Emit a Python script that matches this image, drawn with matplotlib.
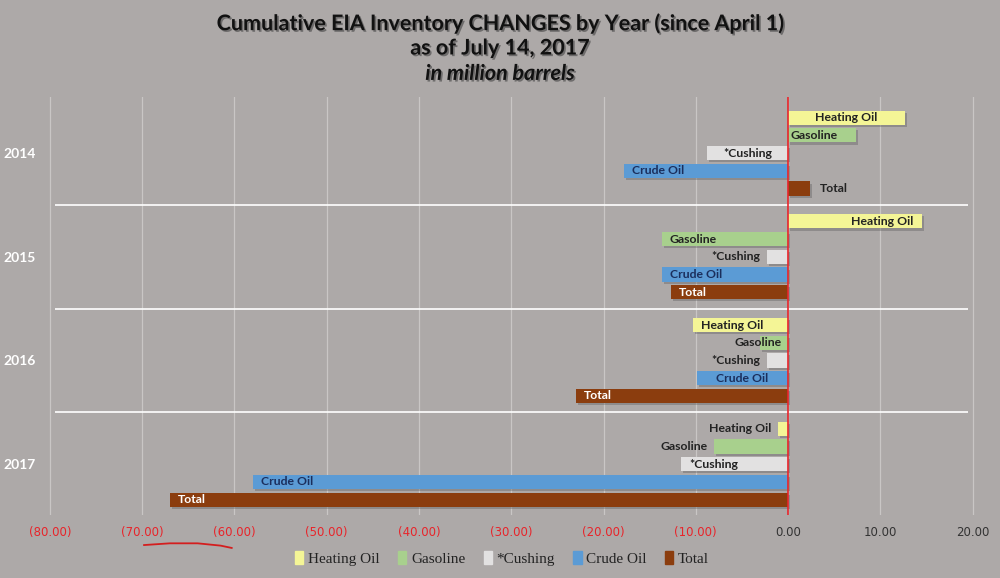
import matplotlib
matplotlib.use("Agg")
import matplotlib.pyplot as plt
import matplotlib.patheffects as pe
from matplotlib.lines import Line2D
import numpy as np

years = ["2014", "2015", "2016", "2017"]
series = ["Heating Oil", "Gasoline", "*Cushing", "Crude Oil", "Total"]

heating_oil = [12.7, 14.5, -10.3, -1.1]
gasoline = [7.4, -13.7, -3.0, -8.0]
cushing = [-8.8, -2.3, -2.3, -11.6]
crude_oil = [-17.8, -13.7, -9.9, -58.0]
total = [2.4, -12.7, -23.0, -67.0]

# where each bar label sits: center / in_end / in_base / out_end
label_mode = [
    ["center", "in_base", "center", "in_end", "out_end"],
    ["in_end", "in_end", "out_end", "in_end", "in_end"],
    ["in_end", "in_base", "out_end", "center", "in_end"],
    ["out_end", "out_end", "in_end", "in_end", "in_end"],
]

xticks = [-80, -70, -60, -50, -40, -30, -20, -10, 0, 10, 20]

colors = ["#F4F596", "#A8D08D", "#E2E1E1", "#5B9BD5", "#8B3D0E"]
label_colors = ["#222222", "#222222", "#222222", "#1B2E5C", "white"]
bg = "#ADA9A8"

values = [heating_oil, gasoline, cushing, crude_oil, total]

fig = plt.figure(figsize=(10, 5.78), dpi=100)
fig.patch.set_facecolor(bg)
ax = fig.add_axes([0.040, 0.109, 0.940, 0.723])
ax.set_facecolor(bg)

step = 0.171
bar_h = 0.137
pad = 0.9
shadow = [pe.SimplePatchShadow(offset=(1.5, -1.5), shadow_rgbFace="#555555", alpha=0.35), pe.Normal()]

for s in range(len(series)):
    for i in range(len(years)):
        v = values[s][i]
        y = i + (s - 2) * step
        ax.barh(y, v, height=bar_h, color=colors[s], zorder=3, path_effects=shadow)
        mode = label_mode[i][s]
        tc = label_colors[s]
        if mode == "center":
            x, ha = v / 2, "center"
        elif mode == "in_end":
            x, ha = (v - pad, "right") if v > 0 else (v + pad, "left")
        elif mode == "in_base":
            x, ha = (pad * 0.3, "left") if v > 0 else (-0.7, "right")
        else:
            x, ha = (v + pad * 1.2, "left") if v > 0 else (v - pad * 0.8, "right")
            if s == 4:
                tc = "#222222"
        ax.text(x, y, series[s], ha=ha, va="center", color=tc, fontsize=8.8,
                fontweight="bold", family="Lato", zorder=5)

# separators between years
for b in [0.5, 1.5, 2.5]:
    ax.hlines(b, -79.5, 19.5, color="white", lw=1.2, zorder=2)

ax.axvline(0, color="#E8242A", lw=1.2, zorder=4)

ax.set_xlim(-81.08, 20.81)
ax.set_ylim(3.49, -0.54)
ax.set_xticks(xticks)
ax.set_xticklabels(["(%.2f)" % -t if t < 0 else "%.2f" % t for t in xticks],
                   family="Liberation Sans Narrow", fontsize=8.5)
for lab, t in zip(ax.get_xticklabels(), xticks):
    lab.set_color("#E8242A" if t < 0 else "#333333")
ax.set_yticks(range(len(years)))
ax.set_yticklabels(years, color="white", fontweight="bold", fontsize=10, family="Lato")
ax.tick_params(axis="both", length=0)
ax.tick_params(axis="x", pad=8)
ax.tick_params(axis="y", pad=3)
ax.grid(axis="x", color="#C9C6C5", lw=0.9, zorder=1)
for sp in ax.spines.values():
    sp.set_visible(False)

# hand-drawn red underline under (70.00)-(60.00)
trans = matplotlib.transforms.blended_transform_factory(ax.transData, fig.transFigure)
fig.add_artist(Line2D([-69.8, -67, -64, -61.5, -60.3], [0.057, 0.060, 0.060, 0.056, 0.052],
                      transform=trans, color="#D41E1E", lw=1.3))

handles = [plt.Rectangle((0, 0), 1, 1, color=c) for c in colors]
leg = fig.legend(handles, series, loc="center", bbox_to_anchor=(0.502, 0.034), ncol=5,
                 frameon=False, handlelength=0.55, handleheight=0.9, handletextpad=0.3,
                 columnspacing=1.2, prop={"family": "Liberation Serif", "size": 11})
for t in leg.get_texts():
    t.set_color("#222222")

title_fx = [pe.withSimplePatchShadow(offset=(1.2, -1.2), shadow_rgbFace="#444444", alpha=0.6)]
fig.text(0.5, 0.960, "Cumulative EIA Inventory CHANGES by Year (since April 1)", ha="center",
         va="center", fontsize=15.5, fontweight="bold", family="Lato", color="#111111", path_effects=title_fx)
fig.text(0.5, 0.917, "as of July 14, 2017", ha="center", va="center", fontsize=15.5,
         fontweight="bold", family="Lato", color="#111111", path_effects=title_fx)
fig.text(0.5, 0.873, "in million barrels", ha="center", va="center", fontsize=15.5,
         fontweight="bold", style="italic", family="Lato", color="#111111", path_effects=title_fx)

fig.savefig("out.png", dpi=100, facecolor=bg)
